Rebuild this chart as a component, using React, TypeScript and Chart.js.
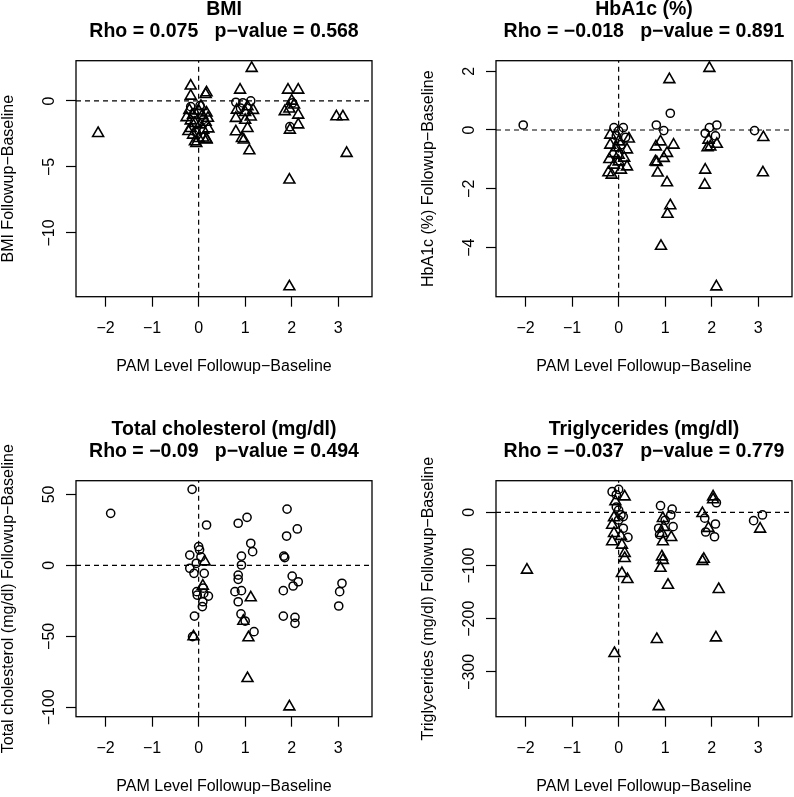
import { useEffect, useRef } from "react";
import { Chart, registerables } from "chart.js";

Chart.register(...registerables);

const FONT = '"Liberation Sans", Arial, Helvetica, sans-serif';
const X_LABEL = "PAM Level Followup\u2212Baseline";

// ---- tick labels ----
const pamTicks = [-2, -1, 0, 1, 2, 3];
const bmiTicks = [-10, -5, 0];
const hba1cTicks = [-4, -2, 0, 2];
const cholTicks = [-100, -50, 0, 50];
const trigTicks = [-300, -200, -100, 0];

// ---- BMI ----
const bmiCircleX = [-0.17, 0.03, -0.1, 0.1, -0.05, 0.8, 0.95, 1.12, 0.9, 1.96, 2.02];
const bmiCircleY = [-0.43, -0.35, -0.9, -1.4, -2.4, -0.1, -0.15, 0.0, -0.55, -1.95, -0.15];
const bmiTriangleX = [
  -2.16,
  -0.17, -0.17, 0.17, 0.15, -0.2, 0.0, 0.17, -0.12, 0.08, -0.26, 0.2, -0.17, -0.08, 0.03, 0.15,
  -0.17, 0.1, 0.21, -0.12, 0.0, 0.17, -0.08, 0.1, 0.17, -0.05, 0.05, -0.22,
  0.89, 1.14, 1.05, 0.82, 1.0, 1.17, 0.8, 1.0, 1.05, 0.8, 0.93, 0.97, 1.09, 1.12,
  1.92, 2.14, 2.0, 2.05, 1.85, 1.95, 2.14, 2.14, 1.96, 1.95, 1.95,
  2.96, 3.1, 3.18,
];
const bmiTriangleY = [
  -2.45,
  1.14, 0.38, 0.63, 0.5, -0.7, -0.75, -0.9, -1.06, -1.1, -1.25, -1.3, -1.5, -1.69, -1.8, -1.6,
  -2.07, -2.2, -2.1, -2.58, -2.83, -2.95, -3.08, -2.8, -2.9, -3.2, -0.4, -2.3,
  0.83, 2.48, -0.43, -0.68, -0.85, -0.7, -1.31, -1.45, -2.07, -2.32, -2.83, -2.95, -3.76, -1.2,
  0.83, 0.83, 0.0, -0.3, -0.8, -0.6, -1.06, -1.8, -2.2, -5.98, -14.07,
  -1.19, -1.19, -3.96,
];

// ---- HbA1c ----
const hbaCircleX = [-2.05, -0.1, 0.1, 0.0, 0.15, -0.05, 0.05, 0.81, 0.97, 1.11, 1.95, 2.11, 1.86, 2.08, 2.92];
const hbaCircleY = [0.17, 0.08, 0.08, -0.03, -0.25, -0.2, -0.5, 0.17, -0.02, 0.57, 0.08, 0.17, -0.11, -0.2, -0.02];
const hbaTriangleX = [
  -0.18, 0.22, -0.18, 0.0, 0.18, -0.05, 0.0, -0.12, 0.12, -0.2, 0.0, -0.1, 0.18, 0.05, -0.15, -0.22,
  1.09, 0.9, 1.18, 0.8, 1.04, 0.79, 0.97, 0.82, 0.84, 1.04, 1.11, 1.05, 0.91,
  1.95, 1.93, 1.97, 2.11, 1.91, 1.86, 1.85, 2.1,
  3.11, 3.1,
];
const hbaTriangleY = [
  -0.17, -0.3, -0.51, -0.4, -0.67, -0.6, -0.85, -0.8, -0.95, -1.0, -1.08, -1.19, -1.25, -1.36, -1.53, -1.45,
  1.72, -0.4, -0.51, -0.57, -0.79, -1.08, -0.96, -1.1, -1.46, -1.79, -2.57, -2.86, -3.95,
  2.1, -0.34, -0.57, -0.48, -0.6, -1.36, -1.87, -5.33,
  -0.25, -1.45,
];

// ---- Total cholesterol ----
const cholCircleX = [
  -1.89,
  -0.14, 0.17, 0.0, 0.02, -0.19, 0.05, -0.05, -0.19, -0.1, 0.12, -0.04, 0.11, 0.21, -0.03, 0.09, 0.08, -0.09, -0.13, 0.1,
  0.85, 1.04, 1.12, 1.16, 0.92, 0.92, 0.85, 0.85, 0.78, 0.92, 0.85, 0.91, 1.0, 1.19,
  1.9, 2.12, 1.89, 1.83, 1.85, 2.01, 2.14, 2.03, 1.82, 1.82, 2.07, 2.07,
  3.08, 3.03, 3.01,
];
const cholCircleY = [
  36.7,
  53.6, 28.5, 13.2, 11.0, 7.3, 6.0, 1.5, -2.0, -5.6, -5.6, -18.5, -19.7, -21.6, -20.9, -25.6, -29.0, -35.7, -50.2, -16.0,
  29.7, 33.9, 15.6, 9.7, 6.6, 0.3, -6.8, -9.8, -18.5, -17.8, -25.6, -34.2, -39.2, -46.7,
  39.7, 25.7, 20.7, 6.6, 5.5, -7.5, -11.5, -14.5, -17.8, -35.7, -36.6, -40.8,
  -12.6, -18.5, -28.6,
];
const cholTriangleX = [0.13, 0.09, -0.11, 1.12, 0.96, 1.07, 1.05, 1.95];
const cholTriangleY = [2.6, -14.5, -50.2, -22.7, -39.2, -50.9, -79.6, -99.6];

// ---- Triglycerides ----
const trigCircleX = [
  0.0, -0.14, -0.05, -0.05, 0.0, 0.05, 0.1, 0.0, 0.1, 0.2,
  0.9, 1.15, 1.12, 0.86, 1.17, 0.88, 1.0,
  2.1, 1.85, 2.08, 1.87, 2.06,
  3.09, 2.9,
];
const trigCircleY = [
  43, 38.7, 33, 10, 4, -5, -8, -14.5, -30, -47,
  12.4, 6, -5, -30, -27, -42, -15,
  18, -11, -22, -37, -46,
  -5, -15.7,
];
const trigTriangleX = [
  -1.97,
  0.13, -0.07, -0.1, -0.14, -0.1, 0.05, -0.14, 0.07, 0.13, 0.13, 0.07, 0.19, -0.09,
  0.95, 0.97, 0.93, 1.13, 0.95, 0.93, 0.95, 0.9, 1.06, 0.82, 0.86,
  2.03, 2.03, 1.8, 1.93, 1.83, 1.8, 2.15, 2.09,
  3.04,
];
const trigTriangleY = [
  -108.5,
  29.3, 20, -10, -24, -39.5, -45, -55, -61.5, -77, -86.5, -114.7, -126, -265,
  -11.3, -28, -39.5, -47, -55, -83.5, -90, -105, -136.7, -238.7, -365,
  29.3, 24, -2, -30, -88, -92, -144.7, -235.7,
  -31.4,
];

type PanelSpec = {
  title: string;
  stats: string;
  yLabel: string;
  cx: number[];
  cy: number[];
  tx: number[];
  ty: number[];
  yTicks: number[];
  yMin: number;
  yMax: number;
  left: number;
  top: number;
};

const fmt = (v: number) => (v < 0 ? "\u2212" + Math.abs(v) : String(v));
const toPts = (xs: number[], ys: number[]) => xs.map((x, i) => ({ x, y: ys[i] }));

const X_MIN = -2.635;
const X_MAX = 3.725;

function Panel({ spec }: { spec: PanelSpec }) {
  const ref = useRef<HTMLCanvasElement | null>(null);
  useEffect(() => {
    const canvas = ref.current;
    if (!canvas) return;
    const m = document.createElement("canvas").getContext("2d")!;
    m.font = `16px ${FONT}`;
    const widest = Math.max(...spec.yTicks.map((v) => m.measureText(fmt(v)).width));

    const boxPlugin = {
      id: "rbox",
      afterDraw(chart: any) {
        const { ctx, chartArea: a } = chart;
        ctx.save();
        ctx.strokeStyle = "#000";
        ctx.lineWidth = 1.3;
        ctx.strokeRect(a.left, a.top, a.right - a.left, a.bottom - a.top);
        ctx.fillStyle = "#000";
        ctx.font = `bold 19.5px ${FONT}`;
        ctx.textAlign = "center";
        ctx.textBaseline = "middle";
        const cx = (a.left + a.right) / 2;
        ctx.fillText(spec.title, cx, 10);
        ctx.fillText(spec.stats, cx, 32);
        ctx.restore();
      },
    };

    const dash = {
      showLine: true,
      borderDash: [5, 4],
      borderColor: "#000",
      borderWidth: 1.2,
      pointRadius: 0,
      fill: false,
    };

    const chart = new Chart(canvas, {
      type: "scatter",
      data: {
        datasets: [
          { ...dash, data: [{ x: X_MIN, y: 0 }, { x: X_MAX, y: 0 }] },
          { ...dash, data: [{ x: 0, y: spec.yMin }, { x: 0, y: spec.yMax }] },
          {
            data: toPts(spec.cx, spec.cy),
            pointStyle: "circle",
            pointRadius: 4.1,
            pointBorderWidth: 1.5,
            borderColor: "#000",
            backgroundColor: "rgba(0,0,0,0)",
            clip: false,
          },
          {
            data: toPts(spec.tx, spec.ty),
            pointStyle: "triangle",
            pointRadius: 6.3,
            pointBorderWidth: 1.6,
            borderColor: "#000",
            backgroundColor: "rgba(0,0,0,0)",
            clip: false,
          },
        ] as any,
      },
      options: {
        animation: false,
        responsive: false,
        devicePixelRatio: 1,
        events: [],
        layout: { padding: { top: 60.7, right: 48, bottom: 0, left: 0 } },
        plugins: {
          legend: { display: false },
          tooltip: { enabled: false },
          title: { display: false },
        },
        scales: {
          x: {
            type: "linear",
            position: "bottom",
            min: X_MIN,
            max: X_MAX,
            afterBuildTicks: (s: any) => {
              s.ticks = pamTicks.map((v) => ({ value: v }));
            },
            afterFit: (s: any) => {
              s.height = 123.3;
            },
            grid: {
              display: true,
              drawOnChartArea: false,
              drawTicks: true,
              tickLength: 10,
              tickColor: "#000",
              tickWidth: 1.2,
              color: "#000",
            },
            border: { display: false },
            ticks: {
              autoSkip: false,
              maxRotation: 0,
              minRotation: 0,
              padding: 12,
              color: "#000",
              font: { family: FONT, size: 16 },
              callback: (v: any) => fmt(Number(v)),
            },
            title: {
              display: true,
              text: X_LABEL,
              color: "#000",
              font: { family: FONT, size: 16 },
              padding: { top: 0, bottom: 43.4 },
            },
          },
          y: {
            type: "linear",
            position: "left",
            min: spec.yMin,
            max: spec.yMax,
            afterBuildTicks: (s: any) => {
              s.ticks = spec.yTicks.map((v) => ({ value: v }));
            },
            afterFit: (s: any) => {
              s.width = 76;
            },
            grid: {
              display: true,
              drawOnChartArea: false,
              drawTicks: true,
              tickLength: 10,
              tickColor: "#000",
              tickWidth: 1.2,
              color: "#000",
            },
            border: { display: false },
            ticks: {
              autoSkip: false,
              minRotation: 90,
              maxRotation: 90,
              crossAlign: "center",
              padding: 16 - widest / 2,
              color: "#000",
              font: { family: FONT, size: 16 },
              callback: (v: any) => fmt(Number(v)),
            },
            title: {
              display: true,
              text: spec.yLabel,
              color: "#000",
              font: { family: FONT, size: 16, lineHeight: 1 },
              padding: { top: 0.5, bottom: 0 },
            },
          },
        },
      } as any,
      plugins: [boxPlugin],
    });
    return () => chart.destroy();
  }, [spec]);

  return (
    <canvas
      ref={ref}
      width={420}
      height={420}
      style={{ position: "absolute", left: spec.left, top: spec.top, width: 420, height: 420 }}
    />
  );
}

const panels: PanelSpec[] = [
  {
    title: "BMI",
    stats: "Rho = 0.075   p\u2212value = 0.568",
    yLabel: "BMI Followup\u2212Baseline",
    cx: bmiCircleX,
    cy: bmiCircleY,
    tx: bmiTriangleX,
    ty: bmiTriangleY,
    yTicks: bmiTicks,
    yMin: -14.83,
    yMax: 3.05,
    left: 0,
    top: 0,
  },
  {
    title: "HbA1c (%)",
    stats: "Rho = \u22120.018   p\u2212value = 0.891",
    yLabel: "HbA1c (%) Followup\u2212Baseline",
    cx: hbaCircleX,
    cy: hbaCircleY,
    tx: hbaTriangleX,
    ty: hbaTriangleY,
    yTicks: hba1cTicks,
    yMin: -5.67,
    yMax: 2.357,
    left: 420,
    top: 0,
  },
  {
    title: "Total cholesterol (mg/dl)",
    stats: "Rho = \u22120.09   p\u2212value = 0.494",
    yLabel: "Total cholesterol (mg/dl) Followup\u2212Baseline",
    cx: cholCircleX,
    cy: cholCircleY,
    tx: cholTriangleX,
    ty: cholTriangleY,
    yTicks: cholTicks,
    yMin: -106.6,
    yMax: 59.7,
    left: 0,
    top: 420,
  },
  {
    title: "Triglycerides (mg/dl)",
    stats: "Rho = \u22120.037   p\u2212value = 0.779",
    yLabel: "Triglycerides (mg/dl) Followup\u2212Baseline",
    cx: trigCircleX,
    cy: trigCircleY,
    tx: trigTriangleX,
    ty: trigTriangleY,
    yTicks: trigTicks,
    yMin: -384.2,
    yMax: 59.4,
    left: 420,
    top: 420,
  },
];

export default function App() {
  return (
    <div
      style={{
        position: "fixed",
        left: 0,
        top: 0,
        width: 794,
        height: 797,
        overflow: "hidden",
        background: "#fff",
      }}
    >
      {panels.map((p) => (
        <Panel key={p.title} spec={p} />
      ))}
    </div>
  );
}
